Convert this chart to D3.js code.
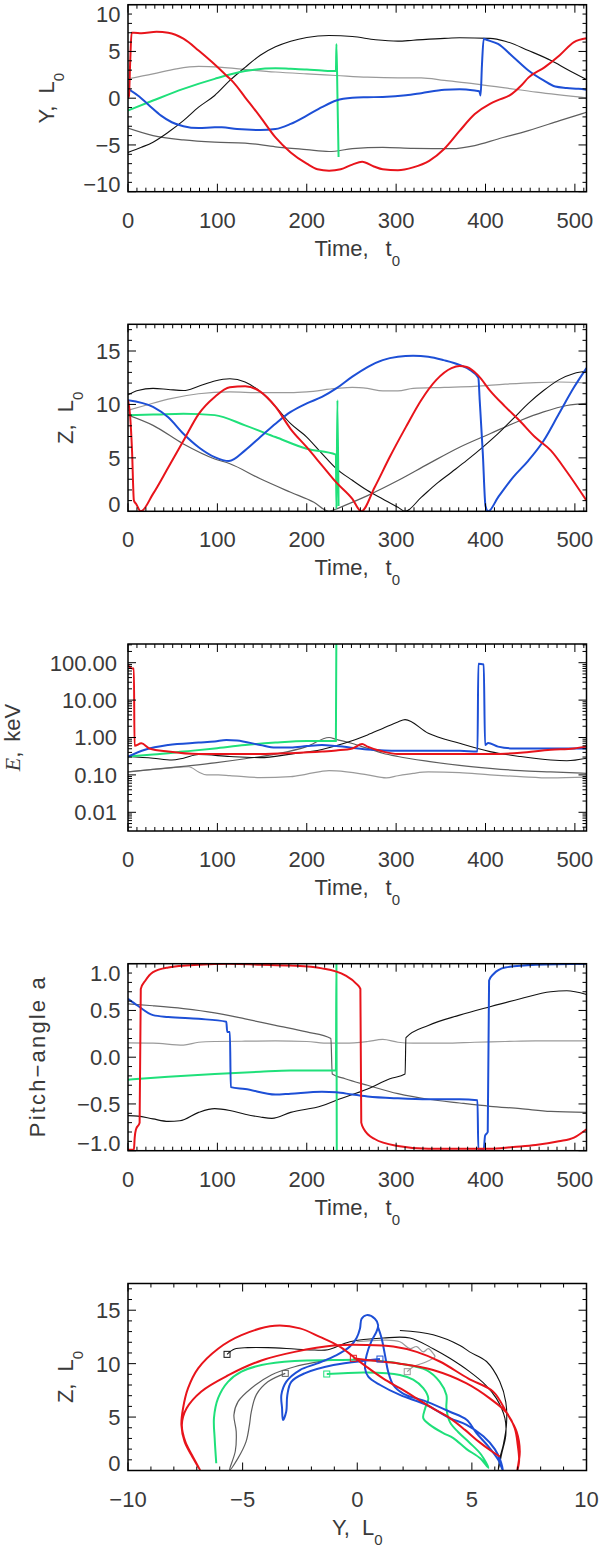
<!DOCTYPE html>
<html><head><meta charset="utf-8">
<script src="https://cdn.jsdelivr.net/npm/d3@7"></script>
<style>
body{margin:0;background:#fff}
text{font-family:"Liberation Sans",Arial,sans-serif;fill:#3a3a3a}
</style>
</head><body>
<svg id="c" width="600" height="1546"></svg>
<script>
// ---------------- DATA ----------------
const timeTicks = [0,100,200,300,400,500];
const yzTicks = [-10,-5,0,5,10];
// Panel 1: Y(t), L0
const Y_lgray = [[0,2.07],[28,2.6],[54,3.14],[79,3.4],[105,3.3],[131,3.07],[165,2.8],[200,2.6],[233,2.43],[268,2.25],[302,2.18],[328,2.18],[354,1.9],[388,1.54],[422,1.1],[457,0.64],[513,0.04]];
const Y_dgray = [[0,-3.2],[28,-4.0],[62,-4.46],[97,-4.7],[131,-4.8],[165,-5.2],[200,-5.5],[225,-5.7],[251,-5.4],[285,-5.25],[319,-5.36],[362,-5.4],[388,-5.07],[414,-4.36],[448,-3.46],[483,-2.4],[513,-1.5]];
const Y_black = [[0,-5.8],[15,-5.25],[28,-4.7],[45,-3.64],[62,-2.4],[79,-0.96],[97,0.29],[114,1.9],[131,3.3],[148,4.6],[165,5.5],[182,6.1],[200,6.5],[225,6.7],[251,6.6],[277,6.25],[302,6.1],[319,6.2],[354,6.4],[371,6.46],[405,6.4],[422,6.1],[448,5.1],[474,4.0],[491,3.1],[513,2.0]];
const Y_green = [[0,-1.32],[28,-0.25],[62,1.0],[97,2.07],[131,2.9],[165,3.2],[182,3.14],[200,3.07],[217,2.96],[232.6,2.9],[233.2,5.8],[234.3,0.5],[235.6,-6.3]];
const Y_blue = [[0,1.0],[11,0.29],[24,-0.8],[37,-1.86],[49,-2.57],[62,-3.0],[79,-3.2],[97,-3.1],[105,-3.1],[122,-3.3],[148,-3.4],[165,-3.3],[182,-2.75],[200,-1.86],[217,-0.96],[233,-0.25],[251,0.04],[268,0.1],[285,0.14],[311,0.32],[328,0.54],[354,0.9],[371,0.96],[388,0.82],[393,0.75],[394.5,0.29],[396,3.5],[398,6.36],[401,6.25],[414,5.8],[431,4.4],[448,2.96],[465,1.9],[478,1.25],[491,1.1],[504,1.0],[513,0.9]];
const Y_red = [[0,0],[1,0.2],[2.5,4],[4,7.0],[6.6,7.0],[15,6.95],[32,7.1],[45,7.0],[62,6.36],[79,5.1],[94,3.86],[110,2.43],[118,1.7],[131,0.1],[148,-2.0],[165,-4.2],[182,-5.8],[200,-7.0],[212,-7.6],[225,-7.75],[238,-7.6],[251,-7.1],[262,-6.8],[275,-7.3],[285,-7.6],[302,-7.7],[319,-7.4],[337,-6.7],[354,-5.4],[371,-3.5],[388,-1.7],[405,-0.6],[414,-0.2],[427,0.3],[440,1.36],[448,2.2],[466,3.3],[483,4.6],[499,6.0],[513,6.4]];

// Panel 2: Z(t), L0
const Z_lgray = [[0,9.45],[19,9.9],[45,10.5],[79,11.0],[114,11.17],[148,11.1],[182,11.1],[200,11.17],[233,11.5],[251,11.6],[268,11.5],[285,11.27],[302,11.27],[319,11.5],[354,11.6],[388,11.7],[422,11.9],[456,12.05],[482,12.1],[513,12.0]];
const Z_dgray = [[0,9.0],[28,8.04],[62,6.3],[97,4.9],[114,4.45],[148,3.04],[182,1.78],[208,0.85],[225,0],[233,0.22],[242,0.53],[268,1.47],[302,2.88],[336,4.44],[371,6.0],[405,7.26],[439,8.5],[465,9.3],[491,9.9],[513,10.1]];
const Z_black = [[0,10.9],[11,11.3],[28,11.5],[45,11.4],[62,11.3],[79,11.7],[97,12.2],[114,12.4],[131,12.1],[148,11.2],[165,9.8],[182,8.2],[200,6.95],[217,5.4],[233,4.0],[251,2.9],[268,1.94],[285,1.16],[302,0.38],[310,0],[328,1.3],[345,2.57],[362,3.66],[379,4.76],[397,6.0],[414,7.26],[431,8.67],[448,10.1],[465,11.3],[482,12.3],[499,12.9],[513,13.1]];
const Z_green = [[0,9.0],[28,9.05],[62,9.14],[97,9.0],[131,8.04],[165,6.95],[200,5.85],[232.6,5.3],[233.2,0.25],[234.3,10.4],[235.6,0.5]];
const Z_blue = [[0,10.4],[28,9.77],[45,8.8],[62,7.26],[79,6.0],[97,5.07],[113,4.7],[131,5.7],[148,6.95],[165,8.2],[182,9.3],[200,10.1],[217,10.7],[233,11.5],[251,12.6],[268,13.5],[285,14.15],[302,14.46],[319,14.55],[336,14.46],[353,14.15],[371,13.7],[383,13.2],[392,12.5],[393.5,10.4],[397,5.4],[400,0.5],[403,0],[414,1.3],[431,3.2],[448,4.75],[465,6.6],[482,9.1],[499,11.6],[513,13.4]];
const Z_red = [[0,10.4],[2.5,8.8],[4.5,5.7],[6.6,1.0],[9,0.7],[14.3,0],[28,1.63],[45,4.1],[62,6.6],[79,9.1],[97,10.7],[114,11.6],[131,11.7],[148,11.2],[165,9.8],[182,7.7],[200,6.0],[217,4.3],[233,2.7],[251,1.16],[261,0],[276,2.25],[293,5.1],[311,7.9],[328,10.4],[345,12.3],[362,13.4],[371,13.6],[379,13.5],[392,12.7],[405,11.3],[422,9.8],[439,8.4],[456,6.9],[473,5.7],[491,3.7],[513,1.0]];

// Panel 3: E(t), keV
const eTicks = [0.01,0.1,1,10,100];
const E_lgray = [[0,0.12],[28,0.14],[49,0.155],[68,0.165],[79,0.12],[88,0.1],[101,0.1],[114,0.096],[148,0.085],[182,0.09],[200,0.105],[225,0.13],[233,0.128],[268,0.1],[289,0.083],[302,0.095],[319,0.11],[336,0.12],[371,0.115],[405,0.1],[439,0.09],[473,0.083],[513,0.087]];
const E_dgray = [[0,0.12],[28,0.14],[62,0.17],[97,0.21],[131,0.27],[165,0.36],[200,0.57],[225,1.0],[233,0.89],[251,0.69],[268,0.51],[285,0.38],[302,0.31],[336,0.23],[371,0.18],[405,0.15],[439,0.13],[473,0.12],[513,0.11]];
const E_black = [[0,0.31],[28,0.28],[49,0.25],[62,0.28],[79,0.35],[114,0.31],[148,0.29],[182,0.36],[217,0.48],[243,0.71],[268,1.17],[285,1.75],[302,2.6],[310,3.0],[336,1.3],[371,0.7],[405,0.42],[439,0.31],[473,0.25],[491,0.24],[513,0.28]];
const E_green = [[0,0.31],[28,0.35],[62,0.42],[97,0.51],[131,0.63],[165,0.73],[200,0.8],[225,0.8],[232.6,0.8],[233.2,1000]];
const E_blue = [[0,0.31],[19,0.47],[45,0.63],[79,0.73],[97,0.78],[110,0.86],[122,0.83],[148,0.63],[165,0.54],[182,0.54],[200,0.59],[217,0.63],[233,0.59],[268,0.48],[302,0.44],[336,0.44],[371,0.44],[391,0.42],[392,94],[398,90],[399.5,0.63],[403,0.71],[414,0.57],[431,0.51],[456,0.51],[491,0.51],[513,0.51]];
const E_red = [[0,85],[4.5,70],[6.6,70],[7.3,0.6],[15,0.7],[24,0.51],[45,0.42],[79,0.36],[114,0.36],[148,0.36],[182,0.38],[217,0.42],[233,0.45],[251,0.51],[262,0.67],[268,0.57],[285,0.42],[302,0.36],[336,0.36],[371,0.36],[405,0.36],[439,0.39],[473,0.47],[499,0.51],[513,0.57]];

// Panel 4: pitch-angle a(t)
const aTicks = [-1,-0.5,0,0.5,1];
const A_lgray = [[0,0.153],[28,0.15],[62,0.13],[79,0.16],[97,0.168],[131,0.171],[165,0.175],[200,0.168],[225,0.15],[243,0.15],[268,0.168],[285,0.19],[302,0.16],[319,0.15],[354,0.15],[388,0.16],[422,0.168],[456,0.175],[513,0.175]];
const A_dgray = [[0,0.57],[28,0.55],[62,0.52],[97,0.475],[131,0.41],[165,0.34],[200,0.27],[227,0.2],[228.5,-0.18],[243,-0.23],[268,-0.30],[302,-0.39],[336,-0.45],[371,-0.49],[405,-0.525],[439,-0.55],[473,-0.58],[513,-0.59]];
const A_black = [[0,-0.625],[11,-0.63],[28,-0.66],[45,-0.686],[58,-0.68],[79,-0.59],[97,-0.55],[114,-0.57],[131,-0.61],[148,-0.64],[161,-0.654],[182,-0.59],[217,-0.52],[233,-0.46],[268,-0.34],[293,-0.23],[310,-0.18],[311,0.21],[336,0.34],[371,0.45],[405,0.54],[439,0.625],[473,0.70],[491,0.71],[513,0.67]];
const A_green = [[0,-0.24],[45,-0.21],[97,-0.18],[148,-0.155],[182,-0.143],[232.6,-0.143],[233.2,1.05],[233.6,-1.05]];
const A_blue = [[0,0.625],[11,0.55],[28,0.45],[45,0.43],[79,0.41],[110,0.38],[111,0.27],[114,0.27],[115,-0.32],[131,-0.34],[165,-0.40],[182,-0.39],[217,-0.37],[233,-0.375],[251,-0.40],[268,-0.42],[302,-0.44],[336,-0.45],[371,-0.45],[391,-0.46],[392,-0.99],[398,-0.99],[399.5,-0.84],[402.5,-0.80],[404,0.82],[409,0.89],[422,0.96],[456,0.99],[513,1.0]];
const A_red = [[0,-0.99],[6.6,-0.99],[7.5,-0.86],[9,-0.77],[13,-0.7],[14.3,0.73],[19.5,0.82],[28,0.91],[45,0.96],[79,0.99],[114,1.0],[148,0.99],[182,0.98],[217,0.95],[243,0.875],[255,0.79],[260,0.73],[261,-0.7],[264,-0.77],[276,-0.875],[302,-0.95],[336,-0.98],[371,-0.98],[405,-0.98],[431,-0.96],[456,-0.94],[482,-0.9],[499,-0.86],[513,-0.77]];

// Panel 5: trajectories Z vs Y (L0)
const zTicks = [0,5,10,15];
const YZ_lgray = [[2.18,9.25],[2.44,9.7],[3.02,10.18],[3.39,10.65],[3.31,10.95],[3.1,11.4],[2.88,11.1],[2.59,11.6],[2.3,11.4],[1.86,12.05],[1.14,12.2],[-0.03,12.05]];
const YZ_dgray = [[-3.14,9.09],[-3.9,8.3],[-4.4,7.1],[-4.62,5.5],[-4.7,4.3],[-4.85,2.7],[-5.2,1.16],[-5.57,0.04],[-5.32,1.8],[-5.28,3.65],[-5.38,5.2],[-5.2,6.45],[-4.62,7.7],[-3.75,8.94],[-2.73,9.71],[-1.86,10.12],[-1.3,10.3]];
const YZ_black = [[-5.68,10.87],[-5.35,11.37],[-4.77,11.5],[-3.9,11.5],[-2.73,11.37],[-1.86,11.27],[-1.28,11.3],[-0.32,12.05],[1.14,12.4],[2.3,12.4],[3.31,11.4],[4.04,10.5],[4.9,9.25],[5.6,8.0],[6.07,6.75],[6.44,4.9],[6.48,3.3],[6.29,1.47],[6.15,0.02],[6.22,1.16],[6.37,2.4],[6.51,4.3],[6.48,6.4],[6.22,8.3],[5.64,10.2],[4.9,11.1],[4.48,11.7],[3.31,12.7],[1.86,13.1]];
const YZ_green = [[-1.33,9.03],[0.41,9.18],[1.86,8.94],[2.44,8.5],[2.88,7.7],[3.1,6.74],[2.96,5.8],[2.88,4.9],[3.17,4.27],[3.75,3.5],[4.19,3.03],[4.77,2.0],[5.35,1.16],[5.72,0.25],[5.4,1.5],[4.9,2.6],[4.4,3.6],[4.05,4.5],[3.89,5.8],[3.89,7.07],[3.6,8.3],[3.02,9.4],[1.86,10.0],[0.41,10.33],[-1.04,10.33],[-2.73,10.25],[-4.18,9.87],[-5.05,9.25],[-5.64,8.3],[-6.07,6.77],[-6.25,4.9],[-6.22,3.03],[-6.15,0.68]];
const YZ_blue = [[0.99,10.43],[0.41,10.3],[-1.04,9.87],[-2.3,9.09],[-2.88,8.3],[-3.05,7.07],[-3.1,5.5],[-3.24,4.73],[-3.28,5.83],[-3.31,7.07],[-3.1,8.3],[-2.5,9.4],[-1.77,10.0],[-0.9,10.8],[-0.32,11.6],[-0.03,12.4],[0.12,13.3],[0.19,14.2],[0.41,14.54],[0.77,14.2],[0.91,13.6],[0.84,13.0],[0.62,12.1],[0.41,10.8],[0.34,9.56],[0.48,8.78],[1.0,8.0],[1.86,7.07],[3.02,6.14],[4.04,4.9],[4.77,4.27],[5.5,3.2],[6.0,2.0],[6.25,0.9],[6.35,0.02],[6.15,1.0],[5.7,2.3],[5.2,3.5],[4.77,4.74],[4.04,5.5],[3.02,6.45],[2.0,7.2],[1.57,8.0],[1.35,9.25],[1.21,10.8],[1.06,12.4],[0.91,13.4]];
const YZ_red = [[-0.17,10.5],[0.41,10.33],[1.86,10.0],[3.31,9.4],[4.77,8.15],[5.78,6.75],[6.51,5.42],[6.87,3.96],[7.0,2.4],[7.06,0.9],[6.98,0.02],[7.09,1.77],[6.95,3.64],[6.51,5.42],[5.93,7.38],[4.85,8.6],[3.6,10.2],[2.59,11.1],[1.57,11.6],[0.41,11.75],[-1.04,11.7],[-2.73,11.1],[-4.18,10.3],[-5.64,8.9],[-6.8,7.4],[-7.45,5.8],[-7.65,4.3],[-7.5,2.7],[-7.2,1.4],[-6.85,0.02],[-7.24,1.47],[-7.53,2.7],[-7.67,4.27],[-7.6,5.8],[-7.38,7.7],[-6.94,9.56],[-6.07,11.4],[-5.05,12.67],[-3.6,13.54],[-2.5,13.3],[-1.63,12.5],[-0.76,11.6],[-0.17,10.65],[0.41,9.7],[1.14,8.6],[1.86,7.7],[2.59,6.75],[3.31,5.8],[4.04,4.9],[4.7,3.8],[5.3,2.7],[5.8,1.9],[6.22,1.3]];

// ---------------- STYLE ----------------
const COL = {lgray:'#9a9a9a', dgray:'#5e5e5e', black:'#111111', green:'#1fe07a', blue:'#1d4fd6', red:'#e8141b'};
const WID = {lgray:1.2, dgray:1.2, black:1.1, green:2, blue:2, red:2};
const order = ['lgray','dgray','black','green','blue','red'];

const L = 128, R = 586.5, H = 187;
const tops = [4.7, 324.3, 644, 963.7, 1283.5];
const svg = d3.select('#c');
const fs = 22;

function minorsLinear(dom, step){
  const out=[]; const n0=Math.ceil(dom[0]/step-1e-9), n1=Math.floor(dom[1]/step+1e-9);
  for(let i=n0;i<=n1;i++) out.push(+(i*step).toFixed(6)); return out;
}
function minorsLog(dom){
  const out=[]; for(let e=-3;e<=3;e++) for(let k=2;k<=9;k++){const v=k*Math.pow(10,e); if(v>=dom[0]&&v<=dom[1]) out.push(v);} return out;
}

function panel(i, cfg){
  const top=tops[i], bot=top+H;
  const g=svg.append('g');
  const xs=cfg.xs.copy().range([L,R]);
  const ys=cfg.ys.copy().range([bot,top]);
  const cid='clip'+i;
  svg.append('clipPath').attr('id',cid).append('rect').attr('x',L).attr('y',top).attr('width',R-L).attr('height',H);
  const lg=g.append('g').attr('clip-path',`url(#${cid})`);
  const line=d3.line().x(d=>xs(d[0])).y(d=>ys(d[1])).curve(cfg.curve);
  order.forEach(k=>{
    if(!cfg.series[k]) return;
    lg.append('path').attr('d',line(cfg.series[k])).attr('fill','none')
      .attr('stroke',COL[k]).attr('stroke-width',WID[k]).attr('stroke-linejoin','round');
  });
  if(cfg.markers){
    order.forEach(k=>{
      const d=cfg.series[k][0];
      lg.append('rect').attr('x',xs(d[0])-3).attr('y',ys(d[1])-3).attr('width',6).attr('height',6)
        .attr('fill','none').attr('stroke',COL[k]).attr('stroke-width',1);
    });
  }
  g.append('rect').attr('x',L).attr('y',top).attr('width',R-L).attr('height',H)
    .attr('fill','none').attr('stroke','#000').attr('stroke-width',1.5);
  const tk=g.append('g').attr('stroke','#000').attr('stroke-width',1);
  const xMaj=cfg.xMaj, yMaj=cfg.yMaj;
  const xMin=cfg.xMin.filter(v=>!xMaj.some(m=>Math.abs(m-v)<1e-9));
  const yMin=cfg.yMin.filter(v=>!yMaj.some(m=>Math.abs(m-v)<1e-9));
  function xt(v,len){const X=xs(v); tk.append('line').attr('x1',X).attr('x2',X).attr('y1',bot).attr('y2',bot-len);
    tk.append('line').attr('x1',X).attr('x2',X).attr('y1',top).attr('y2',top+len);}
  function yt(v,len){const Y=ys(v); tk.append('line').attr('x1',L).attr('x2',L+len).attr('y1',Y).attr('y2',Y);
    tk.append('line').attr('x1',R).attr('x2',R-len).attr('y1',Y).attr('y2',Y);}
  xMaj.forEach(v=>xt(v,8)); xMin.forEach(v=>xt(v,4));
  yMaj.forEach(v=>yt(v,8)); yMin.forEach(v=>yt(v,4));
  xMaj.forEach(v=>{
    g.append('text').attr('x',xs(v)).attr('y',bot+36).attr('text-anchor','middle')
      .attr('font-size',fs).text(cfg.xFmt(v));
  });
  yMaj.forEach(v=>{
    let Y=ys(v);
    if(Y-top<9) Y=top+9.3;
    if(bot-Y<8) Y=bot-7.6;
    g.append('text').attr('x',cfg.yLabX).attr('y',Y).attr('dy','0.36em').attr('text-anchor','end')
      .attr('font-size',fs).text(cfg.yFmt(v));
  });
  const xt1=g.append('text').attr('x',(L+R)/2).attr('y',bot+64).attr('text-anchor','middle').attr('font-size',fs);
  cfg.xTitle(xt1);
  const yt1=g.append('text').attr('transform',`translate(${cfg.yTitX},${(top+bot)/2}) rotate(-90)`)
    .attr('text-anchor','middle').attr('font-size',fs);
  cfg.yTitle(yt1);
}

function timeTitle(t){
  t.append('tspan').text('Time,');
  t.append('tspan').attr('dx',17).text('t');
  t.append('tspan').attr('dy',10).attr('font-size',15).text('0');
}
function lTitle(letter){
  return function(t){
    t.append('tspan').text(letter+',');
    t.append('tspan').attr('dx',12).text('L');
    t.append('tspan').attr('dy',10).attr('font-size',15).text('0');
  };
}
const fmtInt=d3.format('d');
const tScale=d3.scaleLinear().domain([0,513]);
const tCurve=d3.curveMonotoneX;
const pCurve=d3.curveCatmullRom.alpha(0.5);

panel(0,{xs:tScale, ys:d3.scaleLinear().domain([-10,10]), curve:tCurve,
  series:{lgray:Y_lgray,dgray:Y_dgray,black:Y_black,green:Y_green,blue:Y_blue,red:Y_red},
  xMaj:timeTicks, xMin:minorsLinear([0,513],10), yMaj:yzTicks, yMin:minorsLinear([-10,10],1),
  xFmt:fmtInt, yFmt:fmtInt, yLabX:120.5, yTitX:53.5, xTitle:timeTitle, yTitle:lTitle('Y')});

panel(1,{xs:tScale, ys:d3.scaleLinear().domain([0,17.5]), curve:tCurve,
  series:{lgray:Z_lgray,dgray:Z_dgray,black:Z_black,green:Z_green,blue:Z_blue,red:Z_red},
  xMaj:timeTicks, xMin:minorsLinear([0,513],10), yMaj:zTicks, yMin:minorsLinear([0,17.5],1),
  xFmt:fmtInt, yFmt:fmtInt, yLabX:120.5, yTitX:72.5, xTitle:timeTitle, yTitle:lTitle('Z')});

const eDom=[Math.pow(10,-2.5),Math.pow(10,2.5)];
panel(2,{xs:tScale, ys:d3.scaleLog().domain(eDom), curve:tCurve,
  series:{lgray:E_lgray,dgray:E_dgray,black:E_black,green:E_green,blue:E_blue,red:E_red},
  xMaj:timeTicks, xMin:minorsLinear([0,513],10), yMaj:eTicks, yMin:minorsLog(eDom),
  xFmt:fmtInt, yFmt:d3.format('.2f'), yLabX:117, yTitX:20, xTitle:timeTitle,
  yTitle:function(t){
    t.append('tspan').attr('font-family','"Liberation Serif",serif').attr('font-style','italic').text('E');
    t.append('tspan').text(',');
    t.append('tspan').attr('dx',10).text('keV');
  }});

panel(3,{xs:tScale, ys:d3.scaleLinear().domain([-1,1]), curve:tCurve,
  series:{lgray:A_lgray,dgray:A_dgray,black:A_black,green:A_green,blue:A_blue,red:A_red},
  xMaj:timeTicks, xMin:minorsLinear([0,513],10), yMaj:aTicks, yMin:minorsLinear([-1,1],0.1),
  xFmt:fmtInt, yFmt:d3.format('.1f'), yLabX:120.5, yTitX:45, xTitle:timeTitle,
  yTitle:function(t){ t.attr('textLength',160).attr('lengthAdjust','spacing').text('Pitch\u2212angle a'); }});

panel(4,{xs:d3.scaleLinear().domain([-10,10]), ys:d3.scaleLinear().domain([0,17.5]), curve:pCurve,
  series:{lgray:YZ_lgray,dgray:YZ_dgray,black:YZ_black,green:YZ_green,blue:YZ_blue,red:YZ_red},
  markers:true,
  xMaj:yzTicks, xMin:minorsLinear([-10,10],1), yMaj:zTicks, yMin:minorsLinear([0,17.5],1),
  xFmt:fmtInt, yFmt:fmtInt, yLabX:120.5, yTitX:72.5, xTitle:lTitle('Y'), yTitle:lTitle('Z')});
</script>
</body></html>
